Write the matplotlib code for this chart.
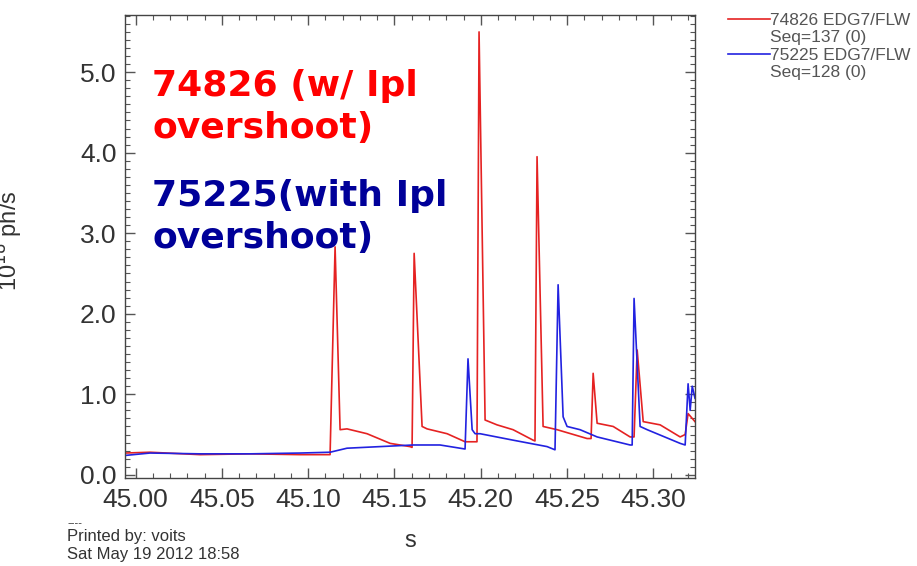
import matplotlib
matplotlib.use("Agg")
import matplotlib.pyplot as plt
from matplotlib.lines import Line2D
from matplotlib.ticker import MultipleLocator, FormatStrFormatter

# shot 74826 (red) - time in s, signal
t_74826 = [44.9939, 45.0084, 45.0374, 45.0663, 45.0953, 45.1127, 45.1156, 45.1185,
           45.1225, 45.1341, 45.1475, 45.1590, 45.1602, 45.1614, 45.1660, 45.1689,
           45.1805, 45.1909, 45.1978, 45.1990, 45.2025, 45.2094, 45.2187, 45.2303,
           45.2314, 45.2326, 45.2361, 45.2442, 45.2616, 45.2639, 45.2651, 45.2674,
           45.2767, 45.2865, 45.2888, 45.2906, 45.2941, 45.3039, 45.3155, 45.3184,
           45.3201, 45.3241]
v_74826 = [0.27, 0.28, 0.25, 0.26, 0.25, 0.25, 2.83, 0.56,
           0.57, 0.51, 0.39, 0.35, 0.34, 2.75, 0.60, 0.57,
           0.51, 0.41, 0.41, 5.50, 0.68, 0.62, 0.56, 0.43,
           0.42, 3.95, 0.60, 0.56, 0.45, 0.45, 1.26, 0.64,
           0.60, 0.47, 0.47, 1.55, 0.66, 0.62, 0.47, 0.50,
           0.76, 0.66]

# shot 75225 (blue)
t_75225 = [44.9939, 45.0084, 45.0374, 45.0663, 45.0953, 45.1127, 45.1225, 45.1417,
           45.1608, 45.1764, 45.1909, 45.1926, 45.1950, 45.1967, 45.1996, 45.2187,
           45.2384, 45.2430, 45.2448, 45.2477, 45.2500, 45.2575, 45.2674, 45.2865,
           45.2877, 45.2888, 45.2923, 45.2964, 45.3155, 45.3184, 45.3201, 45.3213,
           45.3225, 45.3241]
v_75225 = [0.24, 0.27, 0.26, 0.26, 0.27, 0.28, 0.33, 0.35,
           0.37, 0.37, 0.32, 1.44, 0.56, 0.51, 0.51, 0.43,
           0.35, 0.31, 2.36, 0.72, 0.60, 0.56, 0.47, 0.37,
           0.37, 2.19, 0.60, 0.56, 0.39, 0.37, 1.13, 0.80,
           1.10, 0.95]

labels = ["74826 EDG7/FLW", "Seq=137 (0)", "75225 EDG7/FLW", "Seq=128 (0)"]

plt.rcParams["font.family"] = ["Liberation Sans", "DejaVu Sans"]
grey = "#333333"

fig = plt.figure(figsize=(9.17, 5.66), dpi=100)
ax = fig.add_axes([125/917, 1-478/566, 570/917, 463/566])

red_line, = ax.plot(t_74826, v_74826, color="#e52222", lw=1.2)
blue_line, = ax.plot(t_75225, v_75225, color="#2222e0", lw=1.2)

ax.set_xlim(44.9939, 45.3241)
ax.set_ylim(-0.04, 5.71)
ax.xaxis.set_major_locator(MultipleLocator(0.05))
ax.xaxis.set_minor_locator(MultipleLocator(0.01))
ax.xaxis.set_major_formatter(FormatStrFormatter("%.2f"))
ax.yaxis.set_major_locator(MultipleLocator(1.0))
ax.yaxis.set_minor_locator(MultipleLocator(0.1))
ax.yaxis.set_major_formatter(FormatStrFormatter("%.1f"))
ax.tick_params(which="both", direction="in", top=True, right=True, colors="#555555",
               labelcolor=grey, labelsize=19)
ax.tick_params(which="major", length=7, width=1)
ax.tick_params(which="minor", length=3.5, width=0.8)
ax.tick_params(axis="x", pad=7)
ax.tick_params(axis="y", pad=6)
for sp in ax.spines.values():
    sp.set_color("#444444")
    sp.set_linewidth(1.0)

ax.set_xlabel("s", fontsize=17, color=grey, labelpad=13)
fig.text(9/917, 0.574, "10$^{18}$ ph/s", rotation=90, ha="center", va="center",
         fontsize=17, color=grey)

# baseline refers to the last line of the block
ax.text(27/570, (478-138)/463, "74826 (w/ Ipl\novershoot)", transform=ax.transAxes,
        color="#ff0000", fontsize=26, fontweight="bold", family="DejaVu Sans",
        va="baseline", ha="left", linespacing=1.28)
ax.text(27/570, (478-248)/463, "75225(with Ipl\novershoot)", transform=ax.transAxes,
        color="#000099", fontsize=26, fontweight="bold", family="DejaVu Sans",
        va="baseline", ha="left", linespacing=1.28)

blank = Line2D([], [], color="none")
leg = ax.legend([red_line, blank, blue_line, blank], labels, loc="upper left",
                bbox_to_anchor=(728/917, 1-13/566), bbox_transform=fig.transFigure,
                frameon=False, fontsize=12.5, handlelength=2.4, handletextpad=0.0,
                labelspacing=0.12, borderpad=0, borderaxespad=0)
for txt in leg.get_texts():
    txt.set_color("#555555")

fig.text(67/917, 1-523/566, "----", fontsize=8, color=grey, va="center")
fig.text(67/917, 1-536/566, "Printed by: voits", fontsize=12, color=grey, va="center")
fig.text(67/917, 1-555/566, "Sat May 19 2012 18:58", fontsize=12, color=grey, va="center")

fig.savefig("out.png", dpi=100)
